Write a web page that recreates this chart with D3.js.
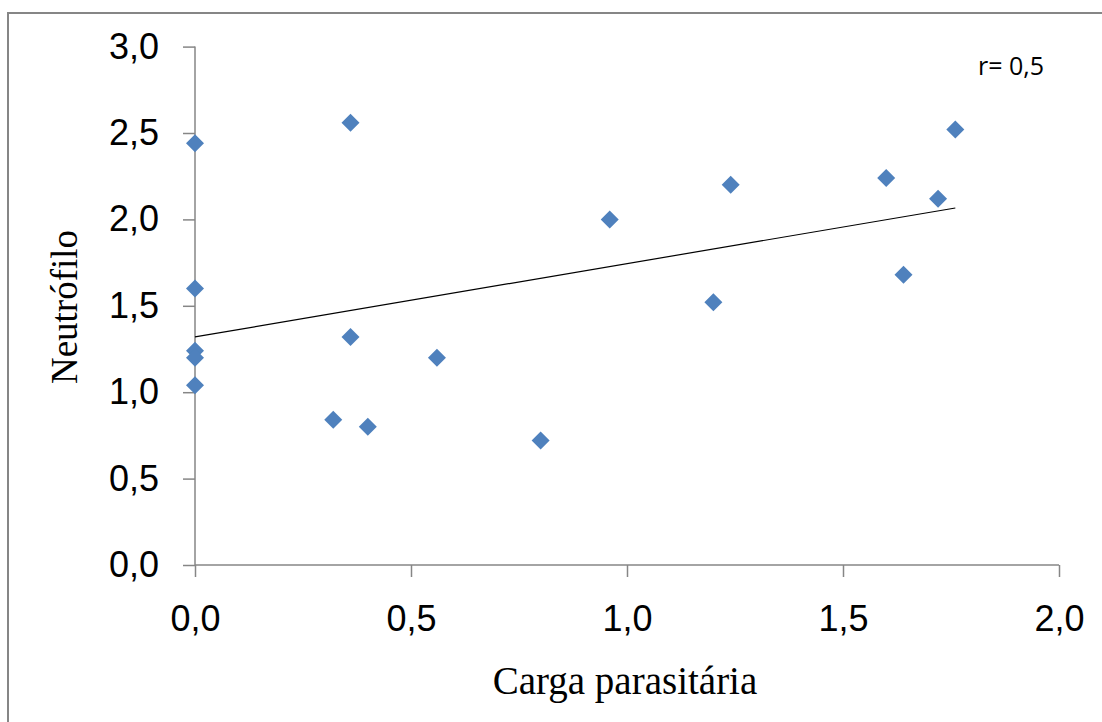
<!DOCTYPE html>
<html>
<head>
<meta charset="utf-8">
<script src="https://cdn.jsdelivr.net/npm/d3@7"></script>
<style>
  html, body { margin: 0; padding: 0; background: #fff; }
  svg { display: block; }
</style>
</head>
<body>
<svg id="chart" width="1102" height="722"></svg>
<script>
// Parasite load vs. neutrophil count
const cargaParasitaria = [0, 0.36, 0, 0, 0, 0, 0.36, 0.32, 0.40, 0.56, 0.80, 0.96, 1.20, 1.24, 1.60, 1.64, 1.72, 1.76];
const neutrofilo       = [2.44, 2.56, 1.60, 1.24, 1.20, 1.04, 1.32, 0.84, 0.80, 1.20, 0.72, 2.00, 1.52, 2.20, 2.24, 1.68, 2.12, 2.52];
const xTicks = [0, 0.5, 1.0, 1.5, 2.0];
const yTicks = [0, 0.5, 1.0, 1.5, 2.0, 2.5, 3.0];
const xTitle = "Carga parasitária";
const yTitle = "Neutrófilo";
const rLabel = "r= 0,5";

const svg = d3.select("#chart");
const axisColor = "#868686";
const fmt = v => d3.format(".1f")(v).replace(".", ",");

// outer chart frame (open to the right and bottom)
svg.append("path")
  .attr("d", "M8,722 L8,13 L1102,13")
  .attr("fill", "none")
  .attr("stroke", axisColor)
  .attr("stroke-width", 2);

const x = d3.scaleLinear().domain([0, 2]).range([195, 1059]);
const y = d3.scaleLinear().domain([0, 3]).range([565, 46.6]);

// axes
const xAxis = svg.append("g")
  .attr("transform", `translate(0,${y(0)})`)
  .call(d3.axisBottom(x).tickValues(xTicks).tickSize(12).tickPadding(28).tickFormat(fmt));
const yAxis = svg.append("g")
  .attr("transform", `translate(${x(0)},0)`)
  .call(d3.axisLeft(y).tickValues(yTicks).tickSize(12).tickPadding(24).tickFormat(fmt));

[xAxis, yAxis].forEach(g => {
  g.select(".domain").attr("stroke", axisColor).attr("stroke-width", 1.5);
  g.selectAll(".tick line").attr("stroke", axisColor).attr("stroke-width", 1.5);
  g.selectAll(".tick text")
    .attr("fill", "#000")
    .style("font-family", "'Liberation Sans', Arial, sans-serif")
    .style("font-size", "36px");
});
// plain axis lines without the outer end ticks
xAxis.select(".domain").attr("d", `M${x(0)},0H${x(2)}`);
yAxis.select(".domain").attr("d", `M0,${y(0)}V${y(3)}`);
xAxis.selectAll(".tick text").attr("dy", "0.71em");

// least-squares trend line
const n = cargaParasitaria.length;
const mx = d3.mean(cargaParasitaria), my = d3.mean(neutrofilo);
let sxy = 0, sxx = 0;
for (let i = 0; i < n; i++) {
  sxy += (cargaParasitaria[i] - mx) * (neutrofilo[i] - my);
  sxx += (cargaParasitaria[i] - mx) ** 2;
}
const slope = sxy / sxx, intercept = my - slope * mx;
const x0 = d3.min(cargaParasitaria), x1 = d3.max(cargaParasitaria);
svg.append("line")
  .attr("x1", x(x0)).attr("y1", y(intercept + slope * x0))
  .attr("x2", x(x1)).attr("y2", y(intercept + slope * x1))
  .attr("stroke", "#000")
  .attr("stroke-width", 1.2);

// data markers (diamonds)
const diamond = d3.symbol().type(d3.symbolSquare).size(162);
svg.append("g").selectAll("path")
  .data(d3.range(n))
  .join("path")
  .attr("d", diamond)
  .attr("transform", i => `translate(${x(cargaParasitaria[i])},${y(neutrofilo[i])}) rotate(45)`)
  .attr("fill", "#4F81BD");

// axis titles
svg.append("text")
  .attr("x", 625).attr("y", 694)
  .attr("text-anchor", "middle")
  .style("font-family", "'Liberation Serif', 'Times New Roman', serif")
  .style("font-size", "39px")
  .text(xTitle);
svg.append("text")
  .attr("transform", "translate(77,307) rotate(-90)")
  .attr("text-anchor", "middle")
  .style("font-family", "'Liberation Serif', 'Times New Roman', serif")
  .style("font-size", "37px")
  .text(yTitle);

// correlation annotation
svg.append("text")
  .attr("x", 978).attr("y", 75)
  .style("font-family", "'Open Sans', sans-serif")
  .style("font-size", "25px")
  .text(rLabel);
</script>
</body>
</html>
